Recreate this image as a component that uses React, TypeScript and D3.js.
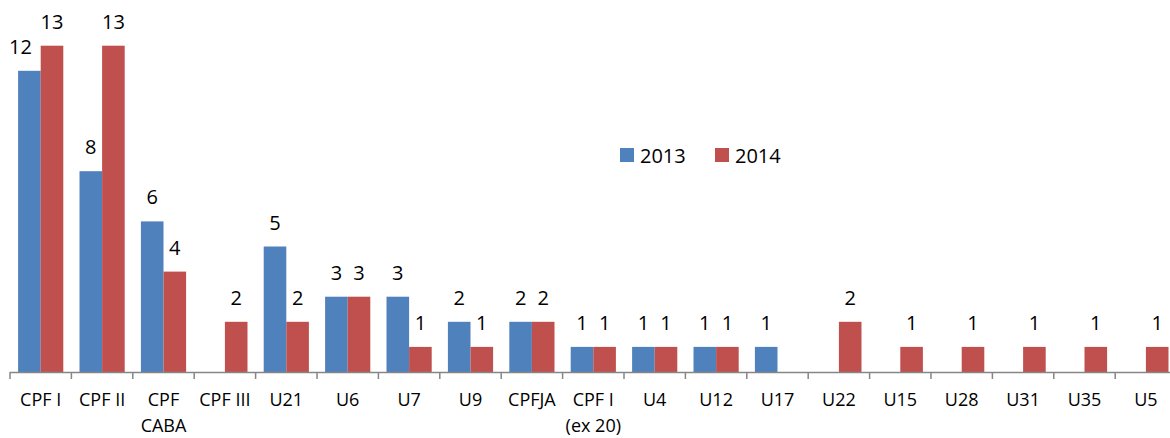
import React from "react";
import * as d3 from "d3";

const categories: string[] = [
  "CPF I", "CPF II", "CPF\nCABA", "CPF III", "U21", "U6", "U7", "U9", "CPFJA",
  "CPF I\n(ex 20)", "U4", "U12", "U17", "U22", "U15", "U28", "U31", "U35", "U5",
];
const values2013: (number | null)[] = [12, 8, 6, null, 5, 3, 3, 2, 2, 1, 1, 1, 1, null, null, null, null, null, null];
const values2014: (number | null)[] = [13, 13, 4, 2, 2, 3, 1, 1, 2, 1, 1, 1, null, 2, 1, 1, 1, 1, 1];
const seriesNames: string[] = ["2013", "2014"];
const seriesColors: string[] = ["#4F81BD", "#C0504D"];

const W = 1170;
const H = 438;
const FONT = "'Open Sans', sans-serif";

export default function App() {
  const x0 = 10;
  const step = 61.4;
  const x = d3
    .scaleBand<string>()
    .domain(categories)
    .range([x0, x0 + step * categories.length])
    .paddingInner(0.264)
    .paddingOuter(0.132);
  const xs = d3.scaleBand<string>().domain(seriesNames).range([0, x.bandwidth()]);
  const y = d3.scaleLinear().domain([0, 13]).range([372, 372 - 13 * 25.1]);

  const series = [values2013, values2014];

  return (
    <svg
      width={W}
      height={H}
      style={{ position: "absolute", left: 0, top: 0, background: "#fff" }}
      fontFamily={FONT}
    >
      {series.map((vals, si) =>
        vals.map((v, i) => {
          if (v == null) return null;
          const c = categories[i];
          const bx = (x(c) as number) + (xs(seriesNames[si]) as number);
          const bw = xs.bandwidth();
          const by = y(v);
          const dx = si === 0 && i === 0 ? -9 : 0;
          return (
            <g key={`${si}-${i}`}>
              <rect x={bx} y={by} width={bw} height={y(0) - by} fill={seriesColors[si]} />
              <text
                x={bx + bw / 2 + dx}
                y={by - 17}
                textAnchor="middle"
                fontSize={20}
                fill="#000"
              >
                {v}
              </text>
            </g>
          );
        })
      )}
      {/* axis */}
      <line x1={x0} x2={x0 + step * categories.length} y1={372.5} y2={372.5} stroke="#868686" strokeWidth={1.5} />
      {d3.range(categories.length + 1).map((k) => (
        <line
          key={k}
          x1={x0 + k * step}
          x2={x0 + k * step}
          y1={372}
          y2={379}
          stroke="#868686"
          strokeWidth={1.5}
        />
      ))}
      {categories.map((c) => {
        const lines = c.split("\n");
        const cx = (x(c) as number) + x.bandwidth() / 2;
        return (
          <text key={c} x={cx} y={406} textAnchor="middle" fontSize={18} fill="#000">
            {lines.map((ln, li) => (
              <tspan key={li} x={cx} dy={li === 0 ? 0 : 25.5}>
                {ln}
              </tspan>
            ))}
          </text>
        );
      })}
      {/* legend */}
      {seriesNames.map((s, si) => (
        <g key={s} transform={`translate(${620 + si * 95},148)`}>
          <rect x={0} y={0} width={14} height={14} fill={seriesColors[si]} />
          <text x={20} y={14.5} fontSize={20} fill="#000">
            {s}
          </text>
        </g>
      ))}
    </svg>
  );
}
